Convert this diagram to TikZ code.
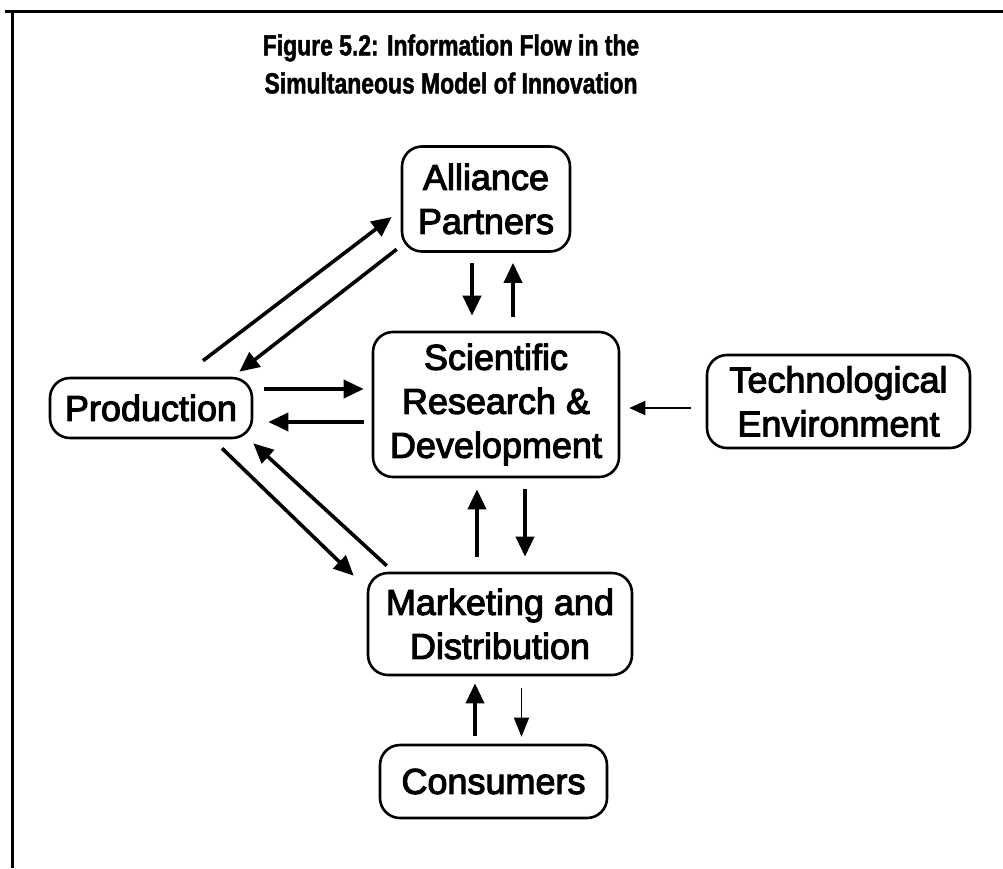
\documentclass[tikz,border=0pt]{standalone}
\usepackage{fontspec}
\setmainfont[FakeBold=3]{Liberation Sans}
\newfontfamily\titlefont[FakeStretch=0.79,FakeBold=1.5]{Liberation Sans Bold}
\usetikzlibrary{arrows.meta}
\begin{document}
\begin{tikzpicture}[x=1pt,y=-1pt,
  box/.style={draw,line width=2.6pt,rounded corners=20pt,align=center,
    inner sep=0pt,font=\fontsize{36}{44}\selectfont},
  flow/.style={line width=3.6pt,-{Triangle[length=20pt,width=18pt]}},
  thinflow/.style={line width=2.2pt,-{Triangle[length=16pt,width=14pt]}},
  faintflow/.style={line width=1.6pt,-{Triangle[length=19pt,width=15pt]}}]
\useasboundingbox (0,0) rectangle (1003,868);
% frame edges
\draw[line width=3pt] (5,11) -- (1003,11);
\draw[line width=3pt] (12,11) -- (12,868);
% title
\node[align=center,font=\titlefont\fontsize{29}{38}\selectfont] (title) at (451,64)
  {Figure 5.2: Information Flow in the\\Simultaneous Model of Innovation};
% boxes
\node[box,minimum width=168pt,minimum height=105pt] (ap) at (486,199) {Alliance\\Partners};
\node[box,minimum width=246pt,minimum height=145pt] (sr) at (496,404.5) {Scientific\\Research \&\\Development};
\node[box,minimum width=202pt,minimum height=60pt] (prod) at (151,408) {Production};
\node[box,minimum width=263pt,minimum height=93pt] (tech) at (838.5,401.5) {Technological\\Environment};
\node[box,minimum width=264pt,minimum height=102pt] (mkt) at (500,624) {Marketing and\\Distribution};
\node[box,minimum width=227pt,minimum height=73pt] (cons) at (493.5,781.5) {Consumers};
% alliance partners <-> research
\draw[flow,shorten <=10pt,shorten >=15pt] ([xshift=-14pt]ap.south) -- ([xshift=-14pt]ap.south |- sr.north);
\draw[flow,shorten <=14pt,shorten >=10pt] ([xshift=17pt]sr.north) -- ([xshift=17pt]sr.north |- ap.south);
% production <-> alliance partners
\draw[flow] ([xshift=52pt,yshift=16pt]prod.north) -- ([xshift=-9pt,yshift=-18pt]ap.west);
\draw[flow] ([xshift=-4pt,yshift=3.5pt]ap.south west) -- ([xshift=-14pt,yshift=5pt]prod.north east);
% production <-> research
\draw[flow] ([xshift=11pt,yshift=19pt]prod.east) -- ([xshift=-8pt,yshift=15.5pt]sr.west);
\draw[flow] ([xshift=-8pt,yshift=-17.5pt]sr.west) -- ([xshift=15pt,yshift=-14pt]prod.east);
% production <-> marketing
\draw[flow] ([xshift=71pt,yshift=-9pt]prod.south) -- ([xshift=-13pt,yshift=-4pt]mkt.north west);
\draw[flow] ([xshift=20pt,yshift=6pt]mkt.north west) -- ([yshift=-4pt]prod.south east);
% technological environment -> research
\draw[thinflow] ([xshift=-15pt,yshift=-6.5pt]tech.west) -- ([xshift=9pt,yshift=-3.5pt]sr.east);
% marketing <-> research
\draw[flow,shorten <=15pt,shorten >=11pt] ([xshift=-23pt]mkt.north) -- ([xshift=-23pt]mkt.north |- sr.south);
\draw[flow,shorten <=11pt,shorten >=15pt] ([xshift=29pt]sr.south) -- ([xshift=29pt]sr.south |- mkt.north);
% consumers <-> marketing
\draw[flow,shorten <=8pt,shorten >=7pt] ([xshift=-18.5pt]cons.north) -- ([xshift=-18.5pt]cons.north |- mkt.south);
\draw[faintflow,shorten <=12pt,shorten >=7pt] ([xshift=21.5pt]mkt.south) -- ([xshift=21.5pt]mkt.south |- cons.north);
\end{tikzpicture}
\end{document}
